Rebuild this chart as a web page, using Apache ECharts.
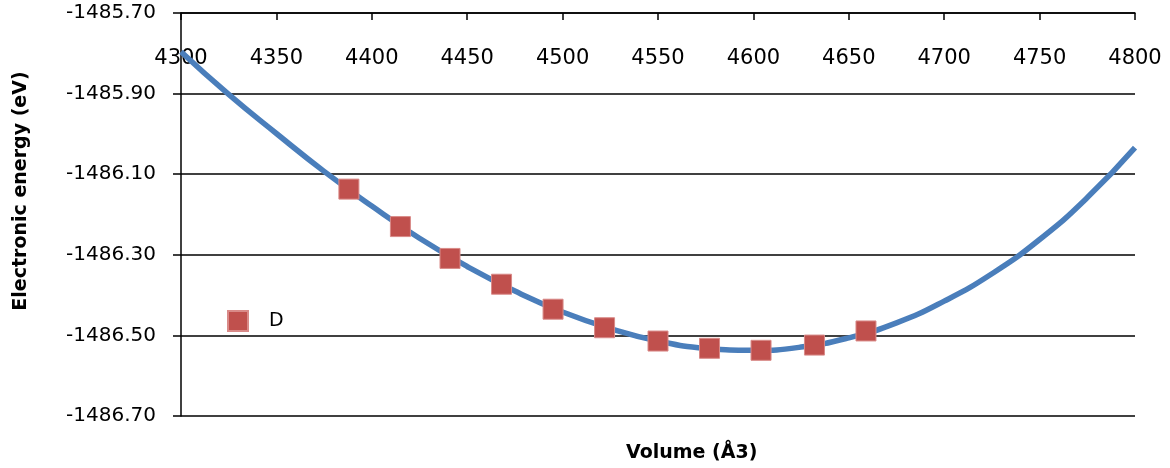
<!DOCTYPE html>
<html>
<head>
<meta charset="utf-8">
<script src="https://cdn.jsdelivr.net/npm/echarts@6/dist/echarts.min.js"></script>
<style>
html,body{margin:0;padding:0;background:#fff}
#main{width:1170px;height:468px}
</style>
</head>
<body>
<div id="main"></div>
<script>
// calculated points D (volume in Å3, energy in eV)
var volumes = [4388, 4415, 4441, 4468, 4495, 4522, 4550, 4577, 4604, 4632, 4659];
var energies = [-1486.137, -1486.230, -1486.309, -1486.373, -1486.435, -1486.481,
                -1486.514, -1486.532, -1486.537, -1486.524, -1486.489];

// fitted curve
var fitVolumes = [4300, 4325, 4350, 4375, 4400, 4425, 4450, 4475, 4500, 4525, 4550,
                  4575, 4600, 4625, 4650, 4675, 4700, 4725, 4750, 4775, 4800];
var fitEnergies = [-1485.796, -1485.902, -1485.999, -1486.093, -1486.179, -1486.259,
                   -1486.329, -1486.390, -1486.442, -1486.483, -1486.514, -1486.532,
                   -1486.537, -1486.529, -1486.506, -1486.469, -1486.415, -1486.347,
                   -1486.262, -1486.158, -1486.034];

// y axis runs -1486.70 .. -1485.70, plotted as offset from the bottom
var yBase = -1486.7;

function pairs(xs, ys) {
    return xs.map(function (x, i) { return [x, +(ys[i] - yBase).toFixed(4)]; });
}

var chart = echarts.init(document.getElementById('main'));

var option = {
    animation: false,
    backgroundColor: '#fff',
    textStyle: {fontFamily: 'DejaVu Sans'},
    title: {
        text: 'Volume (Å3)',
        left: 621,
        top: 439,
        textStyle: {fontFamily: 'DejaVu Sans', fontWeight: 'bold', fontSize: 19, color: '#000'}
    },
    legend: {
        data: ['D'],
        left: 222,
        top: 305,
        itemWidth: 20,
        itemHeight: 20,
        textStyle: {fontFamily: 'DejaVu Sans', fontSize: 19, color: '#000', padding: [0, 0, 0, 16]}
    },
    grid: {left: 181, right: 35, top: 13, bottom: 52},
    xAxis: {
        type: 'value',
        position: 'top',
        min: 4300,
        max: 4800,
        interval: 50,
        axisLine: {onZero: false, lineStyle: {color: '#000', width: 1.5}},
        axisTick: {inside: true, length: 7, lineStyle: {color: '#000', width: 1.5}},
        axisLabel: {
            inside: true,
            margin: 35,
            color: '#000',
            fontFamily: 'DejaVu Sans',
            fontSize: 21,
            formatter: function (v) { return String(v); }
        },
        splitLine: {show: false}
    },
    yAxis: {
        type: 'value',
        min: 0,
        max: 1,
        interval: 0.2,
        name: 'Electronic energy (eV)',
        nameLocation: 'middle',
        nameGap: 150,
        nameTextStyle: {fontFamily: 'DejaVu Sans', fontWeight: 'bold', fontSize: 19, color: '#000', padding: [0, 0, 0, 47]},
        axisLine: {show: true, onZero: false, lineStyle: {color: '#000', width: 1.5}},
        axisTick: {show: true, length: 8, lineStyle: {color: '#000', width: 1.5}},
        axisLabel: {
            margin: 25,
            color: '#000',
            fontFamily: 'DejaVu Sans',
            fontSize: 20,
            formatter: function (v) { return (v + yBase).toFixed(2); }
        },
        splitLine: {lineStyle: {color: '#000', width: 1.5}}
    },
    series: [
        {
            name: 'fit',
            type: 'line',
            data: pairs(fitVolumes, fitEnergies),
            smooth: true,
            showSymbol: false,
            lineStyle: {color: '#4A7EBB', width: 5.5},
            z: 2
        },
        {
            name: 'D',
            type: 'scatter',
            data: pairs(volumes, energies),
            symbol: 'rect',
            symbolSize: 20,
            itemStyle: {color: '#C0504D', opacity: 1, borderColor: '#D98A88', borderWidth: 1},
            z: 3
        }
    ]
};
chart.setOption(option);
</script>
</body>
</html>
